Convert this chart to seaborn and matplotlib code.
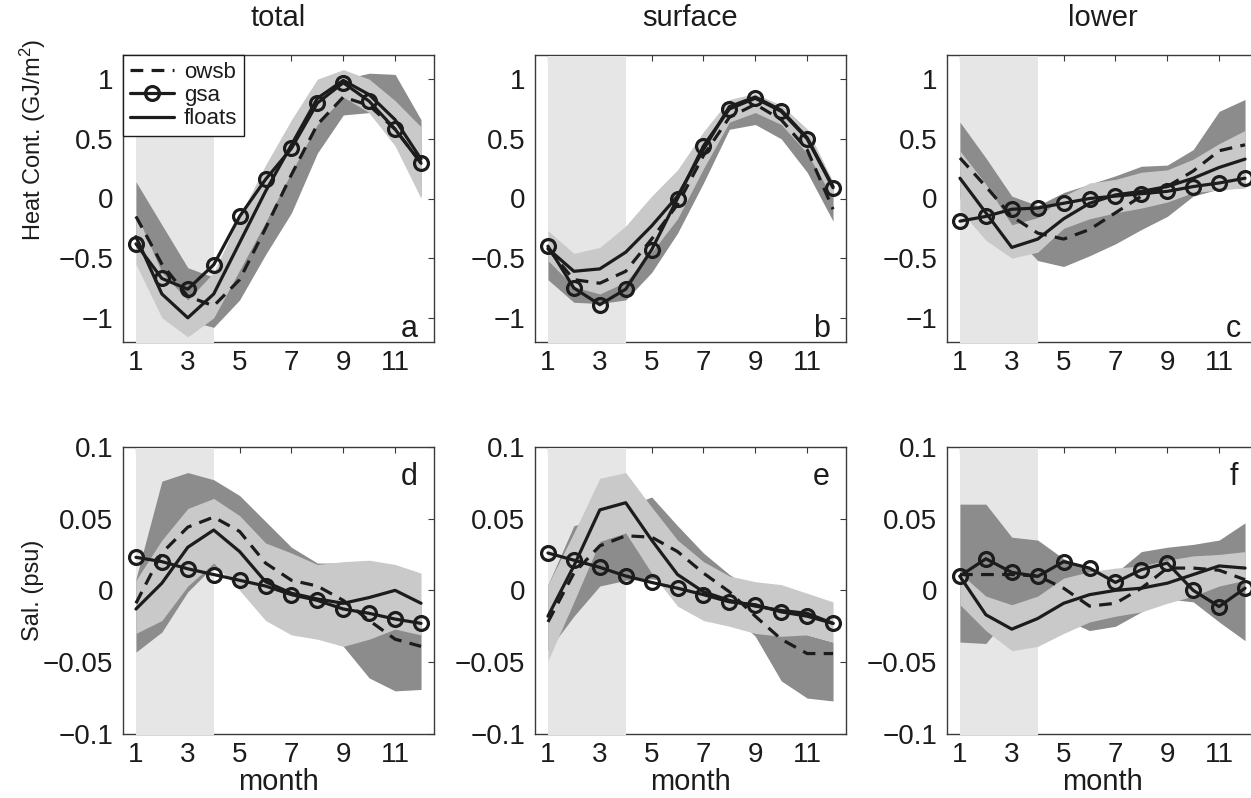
import numpy as np
import pandas as pd
import matplotlib
matplotlib.use("Agg")
import matplotlib.pyplot as plt
import seaborn as sns

# ---------------------------------------------------------------- data
months = np.arange(1, 13)
month_ticks = [1, 3, 5, 7, 9, 11]
winter = [1, 4]

heat_ticks = [-1, -0.5, 0, 0.5, 1]
heat_tick_labels = ["\u22121", "\u22120.5", "0", "0.5", "1"]
sal_ticks = [-0.1, -0.05, 0, 0.05, 0.1]
sal_tick_labels = ["\u22120.1", "\u22120.05", "0", "0.05", "0.1"]

col_titles = ["total", "surface", "lower"]
panel_letters = ["a", "b", "c", "d", "e", "f"]
series_names = ["owsb", "gsa", "floats"]

# heat content, total
a_owsb = [-0.15, -0.55, -0.82, -0.90, -0.68, -0.25, 0.20, 0.62, 0.85, 0.78, 0.58, 0.30]
a_owsb_hi = [0.14, -0.22, -0.58, -0.66, -0.42, 0.02, 0.45, 0.85, 1.00, 1.05, 1.04, 0.66]
a_owsb_lo = [-0.45, -0.85, -1.02, -1.08, -0.85, -0.47, -0.12, 0.38, 0.70, 0.72, 0.45, 0.02]
a_gsa = [-0.38, -0.67, -0.76, -0.555, -0.15, 0.16, 0.42, 0.80, 0.97, 0.815, 0.58, 0.295]
a_floats = [-0.32, -0.80, -1.00, -0.80, -0.37, 0.06, 0.45, 0.84, 0.99, 0.87, 0.66, 0.33]
a_floats_hi = [-0.12, -0.62, -0.85, -0.62, -0.15, 0.28, 0.66, 1.00, 1.08, 1.00, 0.82, 0.60]
a_floats_lo = [-0.55, -1.00, -1.16, -1.00, -0.60, -0.20, 0.22, 0.62, 0.85, 0.72, 0.44, 0.00]

# heat content, surface
b_owsb = [-0.42, -0.68, -0.71, -0.61, -0.34, -0.05, 0.36, 0.68, 0.79, 0.66, 0.41, -0.09]
b_owsb_hi = [-0.38, -0.58, -0.60, -0.45, -0.15, 0.15, 0.52, 0.79, 0.86, 0.78, 0.58, 0.13]
b_owsb_lo = [-0.68, -0.87, -0.88, -0.85, -0.62, -0.29, 0.13, 0.58, 0.62, 0.50, 0.22, -0.19]
b_gsa = [-0.40, -0.75, -0.89, -0.76, -0.43, 0.00, 0.44, 0.75, 0.84, 0.73, 0.50, 0.09]
b_floats = [-0.42, -0.61, -0.59, -0.45, -0.23, 0.02, 0.41, 0.77, 0.85, 0.74, 0.51, 0.10]
b_floats_hi = [-0.27, -0.46, -0.41, -0.23, 0.02, 0.24, 0.56, 0.83, 0.88, 0.78, 0.58, 0.14]
b_floats_lo = [-0.52, -0.74, -0.80, -0.70, -0.45, -0.17, 0.25, 0.64, 0.72, 0.62, 0.38, 0.00]

# heat content, lower
c_owsb = [0.34, 0.10, -0.15, -0.29, -0.34, -0.26, -0.12, 0.02, 0.10, 0.23, 0.40, 0.45]
c_owsb_hi = [0.64, 0.34, 0.02, -0.06, 0.05, 0.12, 0.19, 0.27, 0.28, 0.41, 0.73, 0.83]
c_owsb_lo = [0.00, -0.15, -0.29, -0.52, -0.57, -0.48, -0.38, -0.26, -0.15, 0.02, 0.08, 0.09]
c_gsa = [-0.19, -0.15, -0.09, -0.08, -0.04, 0.00, 0.02, 0.04, 0.06, 0.10, 0.13, 0.17]
c_floats = [0.17, -0.12, -0.41, -0.34, -0.17, -0.04, 0.03, 0.06, 0.10, 0.17, 0.26, 0.33]
c_floats_hi = [0.40, 0.12, -0.22, -0.16, 0.02, 0.13, 0.16, 0.22, 0.24, 0.33, 0.46, 0.57]
c_floats_lo = [-0.10, -0.35, -0.50, -0.45, -0.25, -0.17, -0.12, -0.08, -0.03, 0.05, 0.07, 0.09]

# salinity, total
d_owsb = [-0.009, 0.026, 0.044, 0.051, 0.041, 0.019, 0.007, 0.003, -0.007, -0.021, -0.034, -0.039]
d_owsb_hi = [0.008, 0.076, 0.082, 0.077, 0.066, 0.048, 0.030, 0.019, 0.019, 0.005, -0.005, -0.010]
d_owsb_lo = [-0.043, -0.029, -0.001, 0.017, 0.005, -0.010, -0.016, -0.012, -0.039, -0.061, -0.070, -0.069]
d_gsa = [0.023, 0.020, 0.015, 0.011, 0.007, 0.003, -0.003, -0.007, -0.013, -0.016, -0.020, -0.023]
d_floats = [-0.013, 0.005, 0.030, 0.042, 0.027, 0.006, -0.002, -0.006, -0.009, -0.005, 0.000, -0.009]
d_floats_hi = [0.007, 0.035, 0.057, 0.064, 0.052, 0.033, 0.026, 0.018, 0.020, 0.021, 0.018, 0.012]
d_floats_lo = [-0.030, -0.021, 0.003, 0.019, 0.000, -0.021, -0.031, -0.034, -0.039, -0.034, -0.027, -0.031]

# salinity, surface
e_owsb = [-0.022, 0.012, 0.031, 0.038, 0.037, 0.027, 0.012, -0.001, -0.018, -0.034, -0.044, -0.044]
e_owsb_hi = [0.004, 0.045, 0.050, 0.058, 0.065, 0.045, 0.026, 0.011, 0.000, -0.015, -0.031, -0.036]
e_owsb_lo = [-0.042, -0.018, 0.003, 0.007, 0.008, 0.005, -0.004, -0.015, -0.032, -0.063, -0.075, -0.077]
e_gsa = [0.026, 0.021, 0.016, 0.010, 0.0055, 0.0015, -0.003, -0.008, -0.010, -0.015, -0.018, -0.023]
e_floats = [-0.018, 0.017, 0.056, 0.061, 0.035, 0.011, -0.001, -0.007, -0.011, -0.014, -0.016, -0.023]
e_floats_hi = [0.004, 0.040, 0.078, 0.082, 0.058, 0.035, 0.020, 0.010, 0.006, 0.004, -0.002, -0.008]
e_floats_lo = [-0.049, -0.008, 0.034, 0.040, 0.012, -0.011, -0.021, -0.025, -0.030, -0.032, -0.031, -0.036]

# salinity, lower
f_owsb = [0.011, 0.011, 0.011, 0.010, 0.0015, -0.011, -0.009, 0.0015, 0.0155, 0.0155, 0.014, 0.0074]
f_owsb_hi = [0.060, 0.060, 0.037, 0.035, 0.022, 0.015, 0.012, 0.027, 0.030, 0.032, 0.035, 0.047]
f_owsb_lo = [-0.036, -0.037, -0.015, -0.015, -0.020, -0.028, -0.025, -0.015, -0.006, -0.008, -0.022, -0.035]
f_gsa = [0.010, 0.022, 0.0125, 0.0097, 0.020, 0.0155, 0.0055, 0.0144, 0.019, 0.000, -0.0113, 0.0015]
f_floats = [0.0097, -0.017, -0.027, -0.0196, -0.009, -0.003, 0.000, 0.0015, 0.005, 0.011, 0.017, 0.0155]
f_floats_hi = [0.012, -0.004, -0.010, -0.004, 0.0085, 0.013, 0.0155, 0.017, 0.021, 0.024, 0.025, 0.027]
f_floats_lo = [-0.010, -0.028, -0.042, -0.039, -0.030, -0.022, -0.018, -0.015, -0.009, -0.004, 0.003, 0.007]

panels = [
    (a_owsb, a_owsb_lo, a_owsb_hi, a_gsa, a_floats, a_floats_lo, a_floats_hi),
    (b_owsb, b_owsb_lo, b_owsb_hi, b_gsa, b_floats, b_floats_lo, b_floats_hi),
    (c_owsb, c_owsb_lo, c_owsb_hi, c_gsa, c_floats, c_floats_lo, c_floats_hi),
    (d_owsb, d_owsb_lo, d_owsb_hi, d_gsa, d_floats, d_floats_lo, d_floats_hi),
    (e_owsb, e_owsb_lo, e_owsb_hi, e_gsa, e_floats, e_floats_lo, e_floats_hi),
    (f_owsb, f_owsb_lo, f_owsb_hi, f_gsa, f_floats, f_floats_lo, f_floats_hi),
]

# ---------------------------------------------------------------- style
sns.set_theme(style="white")
plt.rcParams["font.family"] = ["Liberation Sans", "DejaVu Sans"]
plt.rcParams["mathtext.fontset"] = "custom"
plt.rcParams["mathtext.rm"] = "Liberation Sans"
plt.rcParams["mathtext.it"] = "Liberation Sans:italic"

INK = "#1c1c1c"
SPINE = "#3a3a3a"
SHADE = "#e6e6e6"
DARK = "#8c8c8c"
LIGHT = "#c9c9c9"

W, H = 1251, 798
fig = plt.figure(figsize=(W / 100, H / 100), dpi=100)
fig.patch.set_facecolor("white")

col_left = [123, 535, 947]
ax_w = 311
row_top = [55.3, 446.7]
ax_h = [286.4, 287.3]

for i, (owsb, owsb_lo, owsb_hi, gsa, floats, floats_lo, floats_hi) in enumerate(panels):
    r, c = divmod(i, 3)
    rect = [col_left[c] / W, 1 - (row_top[r] + ax_h[r]) / H, ax_w / W, ax_h[r] / H]
    ax = fig.add_axes(rect)
    ax.set_facecolor("white")

    ylim = (-1.2, 1.2) if r == 0 else (-0.1, 0.1)
    span = ylim[1] - ylim[0]

    # winter months highlight, laid over the lower frame edge
    ax.fill_between(winter, ylim[0] - 0.01 * span, ylim[1] - 0.004 * span,
                    color=SHADE, lw=0, zorder=2.6)
    # spread bands
    ax.fill_between(months, owsb_lo, owsb_hi, color=DARK, lw=0, zorder=2.7)
    ax.fill_between(months, floats_lo, floats_hi, color=LIGHT, lw=0, zorder=2.8)

    sns.lineplot(x=months, y=owsb, ax=ax, color=INK, lw=2.3,
                 linestyle=(0, (4, 2.6)), zorder=3, label=series_names[0])
    sns.lineplot(x=months, y=gsa, ax=ax, color=INK, lw=2.3, marker="o",
                 markersize=10, markerfacecolor="none", markeredgecolor=INK,
                 markeredgewidth=2.3, zorder=4, label=series_names[1])
    sns.lineplot(x=months, y=floats, ax=ax, color=INK, lw=2.3, zorder=3.5,
                 label=series_names[2])

    ax.set_xlim(0.5, 12.5)
    ax.set_ylim(*ylim)
    ax.set_xticks(month_ticks)
    ax.set_xticklabels([str(m) for m in month_ticks])
    if r == 0:
        ax.set_yticks(heat_ticks)
        ax.set_yticklabels(heat_tick_labels)
        ax.text(11.55, -1.16, panel_letters[i], ha="center", va="baseline",
                fontsize=22, color=INK, zorder=6)
    else:
        ax.set_yticks(sal_ticks)
        ax.set_yticklabels(sal_tick_labels)
        ax.text(11.55, 0.073, panel_letters[i], ha="center", va="baseline",
                fontsize=22, color=INK, zorder=6)

    ax.set_xlabel("")
    ax.set_ylabel("")
    ax.grid(False)
    ax.tick_params(axis="both", direction="in", top=True, right=True,
                   length=4, width=0.8, color=SPINE, labelsize=20,
                   labelcolor=INK)
    ax.tick_params(axis="x", pad=6)
    ax.tick_params(axis="y", pad=7)
    for sp in ax.spines.values():
        sp.set_visible(True)
        sp.set_color(SPINE)
        sp.set_linewidth(1.0)

    if i == 0:
        leg = ax.legend(loc="upper left", bbox_to_anchor=(0, 1),
                        borderaxespad=0, fontsize=16, frameon=True,
                        fancybox=False, framealpha=1, edgecolor=INK,
                        handlelength=2.0, handletextpad=0.45,
                        labelspacing=0.1, borderpad=0.3)
        leg.get_frame().set_linewidth(1.0)
        leg.set_zorder(7)
        for t in leg.get_texts():
            t.set_color(INK)
    else:
        lg = ax.get_legend()
        if lg is not None:
            lg.remove()

    if r == 0:
        fig.text((col_left[c] + ax_w / 2) / W, 1 - 18 / H, col_titles[c],
                 ha="center", va="center", fontsize=21, color=INK)
    else:
        fig.text((col_left[c] + ax_w / 2) / W, 1 - 782 / H, "month",
                 ha="center", va="center", fontsize=21, color=INK)

fig.text(33 / W, 1 - 140 / H, "Heat Cont. (GJ/m$^2$)", rotation=90,
         ha="center", va="center", fontsize=17, color=INK)
fig.text(33 / W, 1 - 590 / H, "Sal. (psu)", rotation=90,
         ha="center", va="center", fontsize=17, color=INK)

fig.savefig("out.png", dpi=100, facecolor="white")
